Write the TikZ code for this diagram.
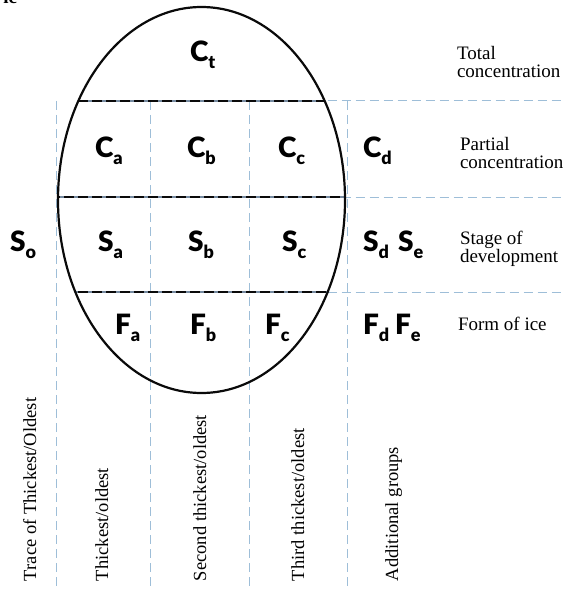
\documentclass[tikz,border=0pt]{standalone}
\usepackage{fontspec}
\setmainfont{Liberation Serif}
\newfontfamily\eggfont{Lato Black}
\usetikzlibrary{positioning}
\definecolor{eggBlue} {RGB}{158,190,216}
\definecolor{eggSlate}{RGB}{118,138,160}
\definecolor{eggBlack}{RGB}{ 10, 10, 10}
% symbol with a lowered small letter
\newcommand{\eggsym}[2]{{\eggfont #1\raisebox{-7pt}{\fontsize{18}{18}\selectfont #2}}}

\begin{document}
\begin{tikzpicture}[x=1pt,y=-1pt,
  every node/.style={inner sep=0pt,outer sep=0pt},
  sym/.style={anchor=base west,font=\fontsize{28}{28}\selectfont},
  rowtxt/.style={anchor=base west,align=left,font=\fontsize{19}{18}\selectfont},
  coltxt/.style={anchor=base west,rotate=90,font=\fontsize{18.5}{18.5}\selectfont},
  gridline/.style={eggBlue,line width=1pt,dash pattern=on 9pt off 5pt},
  eggline/.style={eggBlack,line width=2.2pt},
  splitline/.style={eggBlack,line width=1.8pt,dash pattern=on 10pt off 4pt}
]
\clip (0,0) rectangle (564,591);
% cut-off heading above the picture
\node[anchor=base east,font=\fontsize{19}{19}\selectfont\bfseries] (head) at (17,4) {ic};
% Light blue guides: columns and rows
\foreach \xx in {56,150,249,347}
  \draw[gridline] (\xx,101) -- (\xx,591);
\foreach \yy in {101,197,292}
  \draw[gridline] (201.5,\yy) -- (564,\yy);
% Split lines inside the egg
\begin{scope}
  \clip (201.5,200) ellipse [x radius=143.5,y radius=193];
  \foreach \yy in {101,197,292} {
    \draw[eggSlate,line width=1.8pt] (50,\yy) -- (350,\yy);
    \draw[splitline] (50,\yy) -- (350,\yy);
  }
\end{scope}
% The egg
\draw[eggline] (201.5,200) ellipse [x radius=143.5,y radius=193];
% Concentrations
\node[sym] (ct) at (190,62)  {\eggsym{C}{t}};
\node[sym] (ca) at (95,157)  {\eggsym{C}{a}};
\node[sym] (cb) at (187,157) {\eggsym{C}{b}};
\node[sym] (cc) at (278,157) {\eggsym{C}{c}};
\node[sym] (cd) at (363,157) {\eggsym{C}{d}};
% Stages of development
\node[sym] (so) at (10,251)  {\eggsym{S}{o}};
\node[sym] (sa) at (98,251)  {\eggsym{S}{a}};
\node[sym] (sb) at (188,251) {\eggsym{S}{b}};
\node[sym] (sc) at (282,251) {\eggsym{S}{c}};
\node[sym] (sd) at (363,251) {\eggsym{S}{d}};
\node[sym] (se) at (398,251) {\eggsym{S}{e}};
% Forms of ice
\node[sym] (fa) at (115,334) {\eggsym{F}{a}};
\node[sym] (fb) at (190,334) {\eggsym{F}{b}};
\node[sym] (fc) at (265,334) {\eggsym{F}{c}};
\node[sym] (fd) at (363,334) {\eggsym{F}{d}};
\node[sym] (fe) at (395,334) {\eggsym{F}{e}};
% Row captions (base = last line)
\node[rowtxt] (totl)   at (457,78)  {Total\\concentration};
\node[rowtxt] (partl)  at (460,168) {Partial\\concentration};
\node[rowtxt] (stagel) at (460,262) {Stage of\\development};
\node[rowtxt] (forml)  at (458,330) {Form of ice};
% Column captions
\node[coltxt] (trace) at (36,581)  {Trace of Thickest/Oldest};
\node[coltxt] (thk1)  at (108,581) {Thickest/oldest};
\node[coltxt] (thk2)  at (206,581) {Second thickest/oldest};
\node[coltxt] (thk3)  at (304,581) {Third thickest/oldest};
\node[coltxt] (addg)  at (398,581) {Additional groups};
\end{tikzpicture}
\end{document}
